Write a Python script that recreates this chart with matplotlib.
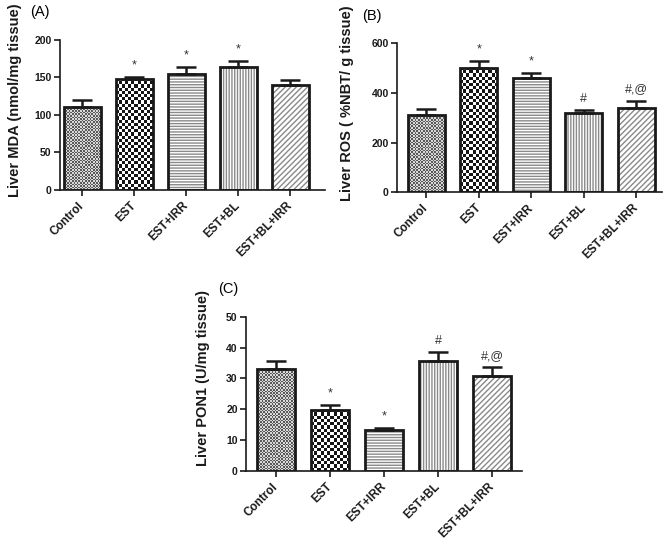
import numpy as np
import matplotlib
matplotlib.use('Agg')
import matplotlib.pyplot as plt
from matplotlib.colors import ListedColormap

plt.rcParams['font.family'] = ['Liberation Sans', 'DejaVu Sans']
plt.rcParams['hatch.linewidth'] = 1.0

groups = ['Control', 'EST', 'EST+IRR', 'EST+BL', 'EST+BL+IRR']

mda = [110, 148, 154, 163, 140]
mda_err = [10, 2, 10, 8, 6]
mda_sig = ['', '*', '*', '*', '']

ros = [312, 500, 459, 318, 338]
ros_err = [22, 29, 23, 13, 30]
ros_sig = ['', '*', '*', '#', '#,@']

pon = [33.2, 19.9, 13.4, 35.5, 30.9]
pon_err = [2.4, 1.5, 0.4, 2.9, 2.7]
pon_sig = ['', '*', '*', '#', '#,@']

W, H = 668, 540
fig = plt.figure(figsize=(W / 100, H / 100), dpi=100)


def px_axes(left, right, top, bottom):
    return fig.add_axes([left / W, (H - bottom) / H, (right - left) / W, (bottom - top) / H])


def checker(ax, bar, cell, c1, c2):
    x0, y0 = bar.get_x(), bar.get_y()
    w, h = bar.get_width(), bar.get_height()
    p0 = ax.transData.transform((x0, y0))
    p1 = ax.transData.transform((x0 + w, y0 + h))
    nx = max(1, int(round((p1[0] - p0[0]) / cell)))
    ny = max(1, int(round((p1[1] - p0[1]) / cell)))
    arr = np.add.outer(np.arange(ny), np.arange(nx)) % 2
    im = ax.imshow(arr, cmap=ListedColormap([c1, c2]), extent=(x0, x0 + w, y0, y0 + h),
                   origin='lower', interpolation='nearest', aspect='auto', zorder=1)
    im.set_clip_path(bar)


def panel(box, xlim, vals, errs, sigs, ymax, step, ylabel, tag, lab_x):
    ax = px_axes(*box)
    x = np.arange(len(groups))
    ax.set_xlim(*xlim)
    ax.set_ylim(0, ymax)
    hatches = [None, None, '------', '||||||', '//////']
    base = ax.bar(x, vals, 0.71, color='white', edgecolor='#8a8a8a', linewidth=0, zorder=1)
    for b, h in zip(base, hatches):
        if h:
            b.set_hatch(h)
    checker(ax, base[0], 1.6, '#5a5a5a', '#d8d8d8')
    checker(ax, base[1], 3.2, '#151515', 'white')
    ax.set_xlim(*xlim)
    ax.set_ylim(0, ymax)
    ax.bar(x, vals, 0.71, color='none', edgecolor='#1a1a1a', linewidth=2.0, zorder=3)
    ax.errorbar(x, vals, yerr=[np.zeros(len(vals)), errs], fmt='none', ecolor='#1a1a1a',
                elinewidth=1.8, capsize=7.5, capthick=1.8, zorder=2)
    for xi, v, e, s in zip(x, vals, errs, sigs):
        if s:
            ax.annotate(s, (xi, v + e), xytext=(0, 4), textcoords='offset points',
                        ha='center', va='bottom', fontsize=9, color='#333333')
    ax.spines['top'].set_visible(False)
    ax.spines['right'].set_visible(False)
    for sp in ('left', 'bottom'):
        ax.spines[sp].set_linewidth(1.2)
        ax.spines[sp].set_color('#1a1a1a')
    ax.set_yticks(np.arange(0, ymax + step / 2, step))
    ax.set_xticks(x)
    ax.set_xticklabels(groups, rotation=45, ha='right', va='center', rotation_mode='anchor')
    ax.tick_params(direction='out', length=4, width=1.2, labelsize=7.5, pad=2, colors='#1a1a1a')
    ax.tick_params(axis='x', labelsize=8.5, pad=6)
    for t in ax.get_xticklabels() + ax.get_yticklabels():
        t.set_fontweight('bold')
    ax.set_ylabel(ylabel, fontsize=10.5, fontweight='bold', color='#1a1a1a')
    ax.yaxis.set_label_coords(lab_x, 0.6)
    ax.text(lab_x + 0.03, 1.18, tag, transform=ax.transAxes, fontsize=10.5, va='center', ha='left')
    return ax


panel((60, 325, 39.5, 190), (-0.43, 4.67), mda, mda_err, mda_sig, 200, 50,
      'Liver MDA (nmol/mg tissue)', '(A)', -0.143)
panel((397, 662, 43.3, 192.3), (-0.56, 4.49), ros, ros_err, ros_sig, 600, 200,
      'Liver ROS ( %NBT/ g tissue)', '(B)', -0.162)
panel((246, 522, 316.7, 471), (-0.56, 4.55), pon, pon_err, pon_sig, 50, 10,
      'Liver PON1 (U/mg tissue)', '(C)', -0.13)

fig.savefig('out.png', dpi=100)
